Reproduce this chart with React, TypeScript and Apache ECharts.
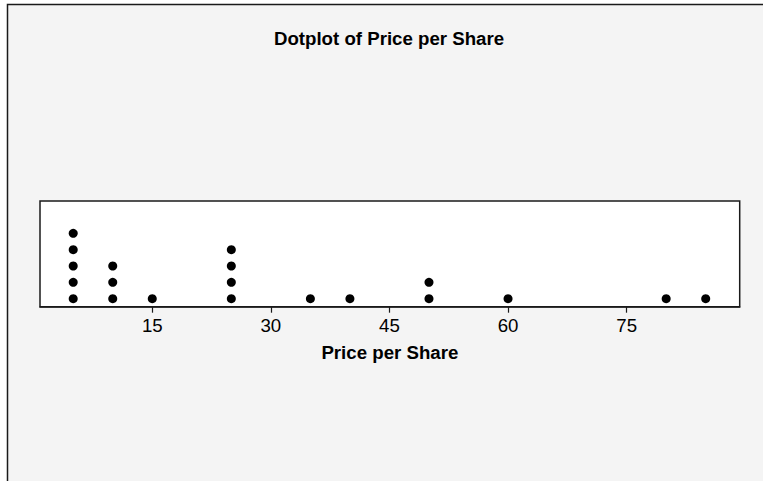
import React, { useEffect, useRef } from "react";
import * as echarts from "echarts";

const prices = [5, 10, 15, 25, 35, 40, 50, 60, 80, 85];
const counts = [5, 3, 1, 4, 1, 1, 2, 1, 1, 1];
const tickValues = [15, 30, 45, 60, 75];
const chartTitle = "Dotplot of Price per Share";
const axisTitle = "Price per Share";

export default function App() {
  const ref = useRef<HTMLDivElement>(null);
  useEffect(() => {
    if (!ref.current) return;
    const chart = echarts.init(ref.current, undefined, { renderer: "svg" });
    const points: number[][] = [];
    prices.forEach((p, i) => {
      for (let k = 0; k < counts[i]; k++) points.push([p, k]);
    });
    const font = "'Liberation Sans', Arial, sans-serif";
    chart.setOption({
      animation: false,
      backgroundColor: "#ffffff",
      textStyle: { fontFamily: font },
      graphic: [
        {
          type: "rect",
          z: -10,
          shape: { x: 7.5, y: 4.5, width: 1000, height: 600 },
          style: { fill: "#f4f4f4", stroke: "#1a1a1a", lineWidth: 1.5 },
        },
      ],
      title: {
        text: chartTitle,
        left: 389,
        top: 29,
        textAlign: "center",
        padding: 0,
        textStyle: { fontFamily: font, fontSize: 18.67, fontWeight: "bold", color: "#000" },
      },
      grid: {
        left: 40,
        right: 23.3,
        top: 201,
        bottom: 174.3,
        show: true,
        backgroundColor: "#ffffff",
        borderColor: "#1a1a1a",
        borderWidth: 1.5,
      },
      xAxis: {
        type: "value",
        min: 0.8,
        max: 89.3,
        name: axisTitle,
        nameLocation: "middle",
        nameGap: 36.5,
        nameTextStyle: { fontFamily: font, fontSize: 18.67, fontWeight: "bold", color: "#000" },
        axisLine: { show: true, onZero: false, lineStyle: { color: "#1a1a1a", width: 1.5 } },
        axisTick: { show: true, length: 6, customValues: tickValues, lineStyle: { color: "#1a1a1a", width: 1.2 } },
        axisLabel: { customValues: tickValues, margin: 9, fontFamily: font, fontSize: 18.67, color: "#000" },
        splitLine: { show: false },
      },
      yAxis: {
        type: "value",
        min: -0.49,
        max: 5.98,
        show: false,
        splitLine: { show: false },
      },
      series: [
        {
          type: "scatter",
          data: points,
          symbol: "circle",
          symbolSize: 9,
          itemStyle: { color: "#000", opacity: 1 },
        },
      ],
    });
    return () => chart.dispose();
  }, []);
  return (
    <div
      ref={ref}
      style={{ position: "fixed", left: 0, top: 0, width: 763, height: 481 }}
    />
  );
}
